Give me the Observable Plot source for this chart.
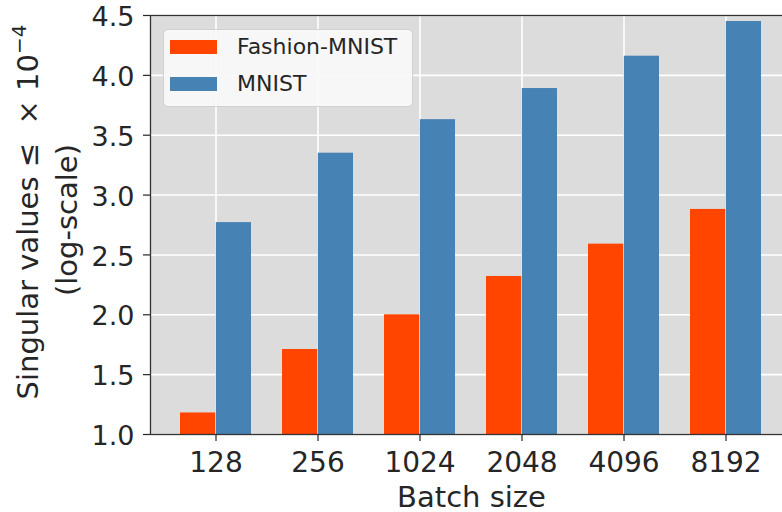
<!DOCTYPE html>
<html>
<head>
<meta charset="utf-8">
<script src="https://cdn.jsdelivr.net/npm/d3@7"></script>
<script src="https://cdn.jsdelivr.net/npm/@observablehq/plot@0.6"></script>
<style>
  html, body { margin: 0; padding: 0; background: #fff; }
  #chart { position: relative; width: 782px; height: 512px; overflow: hidden; font-family: "DejaVu Sans", sans-serif; color: #262626; }
  #chart svg { display: block; }
  .legend { position: absolute; left: 163px; top: 29px; width: 250px; height: 78px; box-sizing: border-box;
            background: rgba(248, 248, 248, 0.92); border: 1px solid #d2d2d2; border-radius: 5px; }
  .legend .row { position: absolute; left: 6px; height: 14px; display: flex; align-items: center; }
  .legend .swatch { width: 47px; height: 14px; margin-right: 20px; flex: none; }
  .legend .label { font-size: 22px; line-height: 1; white-space: nowrap; color: #262626; }
</style>
</head>
<body>
<div id="chart"></div>
<script>
// Batch sizes on the x axis and the two datasets' values (× 10^-4)
const batchSizes = ["128", "256", "1024", "2048", "4096", "8192"];
const fashionMnist = [1.18, 1.71, 2.00, 2.32, 2.59, 2.88];
const mnist = [2.77, 3.35, 3.63, 3.89, 4.16, 4.45];
const seriesNames = ["Fashion-MNIST", "MNIST"];
const seriesColors = ["#ff4500", "#4682b4"];
const yTicks = [1.0, 1.5, 2.0, 2.5, 3.0, 3.5, 4.0, 4.5];
const yDomain = [1.0, 4.5];

const rows = batchSizes.flatMap((b, i) => [
  {batch: b, series: seriesNames[0], value: fashionMnist[i]},
  {batch: b, series: seriesNames[1], value: mnist[i]}
]);

// layout
const width = 782, height = 512;
const marginLeft = 150, marginRight = -10, marginTop = 15, marginBottom = 78;
const paddingInner = 0.3, paddingOuter = 0.285;
const step = (width - marginLeft - marginRight) / (batchSizes.length - paddingInner + 2 * paddingOuter);
const half = step * (1 - paddingInner) / 2;   // each bar takes half of the band

const grid = {stroke: "white", strokeOpacity: 1, strokeWidth: 1.6};

const chart = Plot.plot({
  width, height, marginLeft, marginRight, marginTop, marginBottom,
  style: {fontFamily: "DejaVu Sans", color: "#262626", background: "white", overflow: "hidden"},
  x: {domain: batchSizes, paddingInner, paddingOuter, label: null},
  y: {domain: yDomain, label: null},
  color: {domain: seriesNames, range: seriesColors},
  marks: [
    Plot.frame({fill: "#dcdcdc", stroke: null}),
    Plot.gridX(grid),
    Plot.gridY(yTicks, grid),
    Plot.barY(rows.filter(d => d.series === seriesNames[0]),
      {x: "batch", y1: yDomain[0], y2: "value", fill: "series", insetLeft: 0, insetRight: half}),
    Plot.barY(rows.filter(d => d.series === seriesNames[1]),
      {x: "batch", y1: yDomain[0], y2: "value", fill: "series", insetLeft: half, insetRight: 0}),
    Plot.frame({stroke: "#333", strokeWidth: 1.3}),
    // y tick marks, then their labels nudged slightly below each tick
    Plot.axisY(yTicks, {tickSize: 7, text: null, label: null, strokeWidth: 1.2}),
    Plot.axisY(yTicks, {tickSize: 0, tickPadding: 16, fontSize: 27, dy: 2, tickFormat: d => d.toFixed(1), label: null}),
    Plot.axisX({tickSize: 7, tickPadding: 11, fontSize: 28, label: null, strokeWidth: 1.2}),
    Plot.text(["Batch size"], {frameAnchor: "bottom", dy: 72, fontSize: 29, lineAnchor: "bottom", fill: "#262626"})
  ]
});

document.getElementById("chart").append(chart);

// rotated two-line y-axis title with a superscript exponent
const svg = d3.select(chart);
const yTitle = svg.append("g")
  .attr("font-family", "DejaVu Sans")
  .attr("font-size", 29)
  .attr("fill", "#262626")
  .attr("text-anchor", "middle");
const line1 = yTitle.append("text")
  .attr("transform", "translate(38,212) rotate(-90)")
  .style("white-space", "pre");
line1.append("tspan").text("Singular values \u2264 \u00a0\u00d7 10");
line1.append("tspan").attr("font-size", 20).attr("dy", "-0.6em").text("\u22124");
yTitle.append("text")
  .attr("transform", "translate(77,220) rotate(-90)")
  .text("(log-scale)");

// legend box in the top-left corner of the plot area
const color = chart.scale("color");
const legend = d3.select("#chart").append("div").attr("class", "legend");
color.domain.forEach((name, i) => {
  const row = legend.append("div").attr("class", "row").style("top", `${10 + 37 * i}px`);
  row.append("span").attr("class", "swatch").style("background", color.range[i]);
  row.append("span").attr("class", "label").text(name);
});
</script>
</body>
</html>
